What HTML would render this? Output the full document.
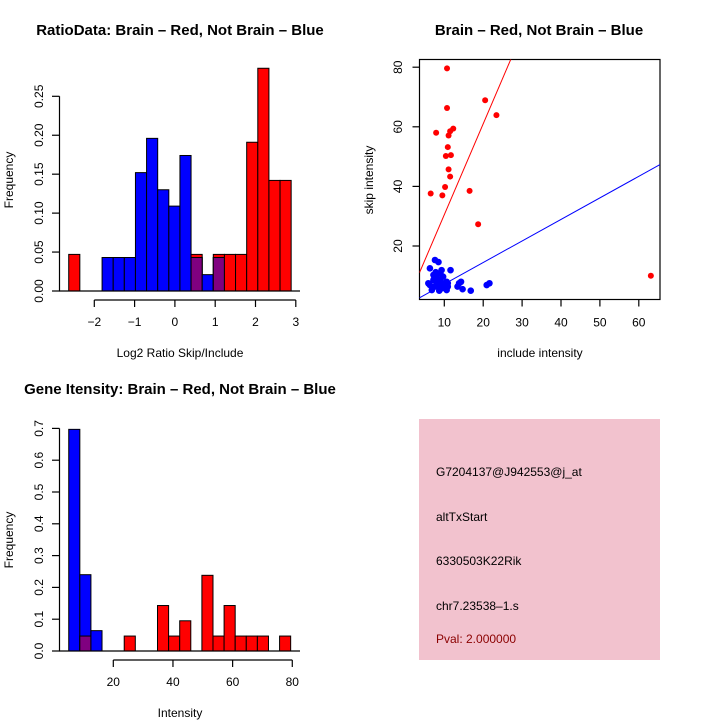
<!DOCTYPE html>
<html><head><meta charset="utf-8"><style>
html,body{margin:0;padding:0;background:#fff}
svg{display:block;font-family:"Liberation Sans",sans-serif}
</style></head><body>
<svg id="c" width="720" height="720" viewBox="0 0 720 720">
<rect x="0" y="0" width="720" height="720" fill="#fff"/>
<text x="180" y="35" font-size="15" font-weight="bold" text-anchor="middle">RatioData: Brain – Red, Not Brain – Blue</text>
<text x="539" y="35" font-size="15" font-weight="bold" text-anchor="middle">Brain – Red, Not Brain – Blue</text>
<text x="180" y="394" font-size="15" font-weight="bold" text-anchor="middle">Gene Itensity: Brain – Red, Not Brain – Blue</text>
<text x="180" y="357" font-size="12" text-anchor="middle">Log2 Ratio Skip/Include</text>
<text x="13" y="180" font-size="12" text-anchor="middle" transform="rotate(-90 13 180)">Frequency</text>
<text x="540" y="357" font-size="12" text-anchor="middle">include intensity</text>
<text x="373" y="180" font-size="12" text-anchor="middle" transform="rotate(-90 373 180)">skip intensity</text>
<text x="180" y="717" font-size="12" text-anchor="middle">Intensity</text>
<text x="13" y="540" font-size="12" text-anchor="middle" transform="rotate(-90 13 540)">Frequency</text>
<g>
<rect x="419" y="419" width="241" height="241" fill="#f2c2ce"/>
<text x="436" y="476" font-size="12" fill="#000">G7204137@J942553@j_at</text>
<text x="436" y="521" font-size="12" fill="#000">altTxStart</text>
<text x="436" y="565" font-size="12" fill="#000">6330503K22Rik</text>
<text x="436" y="610" font-size="12" fill="#000">chr7.23538–1.s</text>
<text x="436" y="643" font-size="12" fill="#8b0000">Pval: 2.000000</text>
</g>
<g id="h1"></g><g id="sc"></g><g id="h2"></g>
</svg>
<script>
const NS="http://www.w3.org/2000/svg";
// ratio histogram data
const ratioBinStart=-2.635, ratioBinWidth=0.276;
const ratioRed=[0.047,0,0,0,0,0,0,0,0,0,0,0.047,0,0.047,0.047,0.047,0.191,0.286,0.142,0.142];
const ratioBlue=[0,0,0,0.043,0.043,0.043,0.152,0.196,0.130,0.109,0.174,0.043,0.021,0.043,0,0,0,0,0,0];
const ratioXTicks=[-2,-1,0,1,2,3];
const ratioYTicks=["0.00","0.05","0.10","0.15","0.20","0.25"];
// intensity histogram data
const intBinStart=5.06, intBinWidth=3.72;
const intRed=[0,0.047,0,0,0,0.047,0,0,0.143,0.047,0.095,0,0.238,0.047,0.143,0.047,0.047,0.047,0,0.047];
const intBlue=[0.697,0.24,0.064,0,0,0,0,0,0,0,0,0,0,0,0,0,0,0,0,0];
const intXTicks=[20,40,60,80];
const intYTicks=["0.0","0.1","0.2","0.3","0.4","0.5","0.6","0.7"];
// scatter data
const redX=[10.7,10.7,20.5,23.4,7.9,12.3,11.5,11.1,10.9,10.4,11.7,11.1,11.5,10.2,6.5,9.5,16.5,18.7,63.1];
const redY=[79.6,66.3,68.9,63.9,58.0,59.4,58.5,57.1,53.2,50.2,50.5,45.7,43.3,39.8,37.6,37.0,38.5,27.3,10.0];
const blueX=[7.6,8.5,6.3,9.3,11.6,5.9,7.2,8.0,8.9,9.7,10.6,8.5,9.3,10.1,10.9,6.8,8.7,13.4,14.3,14.7,13.8,16.8,20.9,21.6,7.2,8.0,9.7,10.9,7.6,10.6,6.3,8.4,9.0,7.8];
const blueY=[15.3,14.6,12.5,11.9,11.9,7.5,8.6,7.5,8.6,7.5,8.0,6.4,5.8,6.9,7.5,5.2,5.0,6.4,8.0,5.5,7.5,5.0,6.9,7.5,10.3,9.7,9.7,6.4,6.4,5.2,6.9,8.2,10.8,11.2];
const redSlope=3.05, blueSlope=0.723;
const scXTicks=[10,20,30,40,50,60];
const scYTicks=[20,40,60,80];

function mk(parent,tag,attrs){const e=document.createElementNS(NS,tag);for(const k in attrs)e.setAttribute(k,attrs[k]);parent.appendChild(e);return e;}

function hist(g,binStart,binW,red,blue,xs,ys,yStep,yTicksLbl,xTicks,xLblY,nm){
  const xmap=v=>xs[0]+(v-xs[1])*xs[2];
  const ymap=v=>ys[0]-v*ys[1];
  for(let i=0;i<red.length;i++){
    const x0=xmap(binStart+i*binW), x1=xmap(binStart+(i+1)*binW);
    const r=red[i], b=blue[i];
    if(r>0){const e=mk(g,"rect",{x:x0,y:ymap(r),width:x1-x0,height:ymap(0)-ymap(r),fill:"#f00",stroke:"#000","stroke-width":1});
      
      }
    if(b>0){const e=mk(g,"rect",{x:x0,y:ymap(b),width:x1-x0,height:ymap(0)-ymap(b),fill:"#00f",stroke:"#000","stroke-width":1});
      
      }
    if(r>0&&b>0){const m=Math.min(r,b);
      const e=mk(g,"rect",{x:x0,y:ymap(m),width:x1-x0,height:ymap(0)-ymap(m),fill:"#800080",stroke:"#000","stroke-width":1});
      
      }
  }
  const base=mk(g,"line",{x1:59,x2:300,y1:ymap(0),y2:ymap(0),stroke:"#000","stroke-width":1.2});
  
  
  const ytop=ymap((yTicksLbl.length-1)*yStep);
  const ya=mk(g,"line",{x1:59.5,x2:59.5,y1:ymap(0),y2:ytop,stroke:"#000","stroke-width":1.2});
  
  
  yTicksLbl.forEach((l,i)=>{const y=ymap(i*yStep);
    mk(g,"line",{x1:52,x2:59.5,y1:y,y2:y,stroke:"#000","stroke-width":1.2});
    const t=mk(g,"text",{x:43,y:y,"font-size":12,"text-anchor":"middle",transform:`rotate(-90 43 ${y})`});
    t.textContent=l;
    
    });
  const xa=mk(g,"line",{x1:xmap(xTicks[0]),x2:xmap(xTicks[xTicks.length-1]),y1:xLblY,y2:xLblY,stroke:"#000","stroke-width":1.2});
  
  
  xTicks.forEach(v=>{const x=xmap(v);
    mk(g,"line",{x1:x,x2:x,y1:xLblY,y2:xLblY+7,stroke:"#000","stroke-width":1.2});
    const t=mk(g,"text",{x:x,y:xLblY+26,"font-size":12,"text-anchor":"middle"});
    t.textContent=String(v).replace("-","−");
    
    });
}
hist(document.getElementById("h1"),ratioBinStart,ratioBinWidth,ratioRed,ratioBlue,[94.3,-2,40.3],[291,778.8],0.05,ratioYTicks,ratioXTicks,300,"ratio");
hist(document.getElementById("h2"),intBinStart,intBinWidth,intRed,intBlue,[113.3,20,2.983],[651,318],0.1,intYTicks,intXTicks,660,"intensity");

(function(){
  const g=document.getElementById("sc");
  const X0=405.4,XS=3.89,Y0=305.6,YS=2.98;
  const xm=v=>X0+v*XS, ym=v=>Y0-v*YS;
  const L=419.5,R=660,T=59.5,B=299.5;
  const box=mk(g,"rect",{x:L,y:T,width:R-L,height:B-T,fill:"none",stroke:"#000","stroke-width":1.2});
  
  
  const cp=mk(g,"clipPath",{id:"cl"});mk(cp,"rect",{x:L,y:T,width:R-L,height:B-T});
  const inner=mk(g,"g",{"clip-path":"url(#cl)"});
  const xmin=(L-X0)/XS,xmax=(R-X0)/XS;
  const rl=mk(inner,"line",{x1:xm(xmin),y1:ym(xmin*redSlope),x2:xm(xmax),y2:ym(xmax*redSlope),stroke:"#f00","stroke-width":1});
  
  
  const bl=mk(inner,"line",{x1:xm(xmin),y1:ym(xmin*blueSlope),x2:xm(xmax),y2:ym(xmax*blueSlope),stroke:"#00f","stroke-width":1});
  
  
  redX.forEach((x,i)=>{const c=mk(inner,"circle",{cx:xm(x),cy:ym(redY[i]),r:3,fill:"#f00"});
    
    });
  blueX.forEach((x,i)=>{const c=mk(inner,"circle",{cx:xm(x),cy:ym(blueY[i]),r:3.3,fill:"#00f"});
    
    });
  scXTicks.forEach(v=>{const x=xm(v);
    mk(g,"line",{x1:x,x2:x,y1:B,y2:B+7,stroke:"#000","stroke-width":1.2});
    const t=mk(g,"text",{x:x,y:B+27,"font-size":12,"text-anchor":"middle"});t.textContent=v;
    
    });
  scYTicks.forEach(v=>{const y=ym(v);
    mk(g,"line",{x1:L-7,x2:L,y1:y,y2:y,stroke:"#000","stroke-width":1.2});
    const t=mk(g,"text",{x:402,y:y,"font-size":12,"text-anchor":"middle",transform:`rotate(-90 402 ${y})`});t.textContent=v;
    
    });
})();
</script>
</body></html>
